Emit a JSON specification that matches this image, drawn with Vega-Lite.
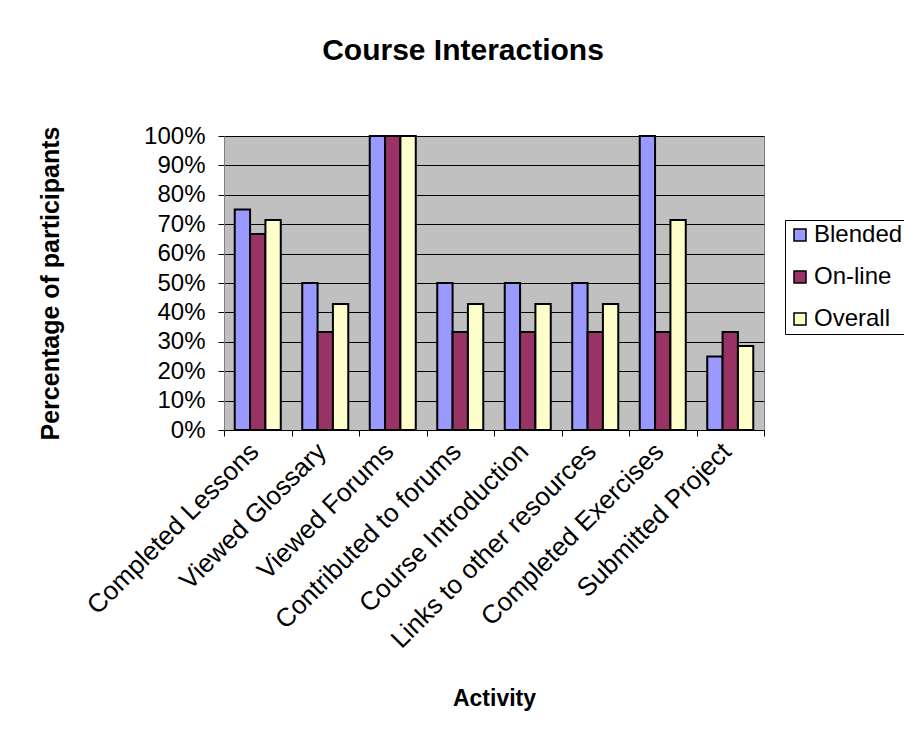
{
  "$schema": "https://vega.github.io/schema/vega-lite/v6.json",
  "autosize": "none",
  "width": 540,
  "height": 294,
  "padding": {"left": 224, "top": 136, "right": 140, "bottom": 312},
  "background": "white",
  "title": {
    "text": "Course Interactions",
    "font": "Liberation Sans",
    "fontSize": 30,
    "fontWeight": "bold",
    "color": "black",
    "anchor": "middle",
    "frame": "group",
    "dx": -31,
    "offset": 34,
    "baseline": "alphabetic"
  },
  "data": {
    "values": [
      {"activity": "Completed Lessons", "group": "Blended", "value": 0.75},
      {"activity": "Completed Lessons", "group": "On-line", "value": 0.6667},
      {"activity": "Completed Lessons", "group": "Overall", "value": 0.7143},
      {"activity": "Viewed Glossary", "group": "Blended", "value": 0.5},
      {"activity": "Viewed Glossary", "group": "On-line", "value": 0.3333},
      {"activity": "Viewed Glossary", "group": "Overall", "value": 0.4286},
      {"activity": "Viewed Forums", "group": "Blended", "value": 1.0},
      {"activity": "Viewed Forums", "group": "On-line", "value": 1.0},
      {"activity": "Viewed Forums", "group": "Overall", "value": 1.0},
      {"activity": "Contributed to forums", "group": "Blended", "value": 0.5},
      {"activity": "Contributed to forums", "group": "On-line", "value": 0.3333},
      {"activity": "Contributed to forums", "group": "Overall", "value": 0.4286},
      {"activity": "Course Introduction", "group": "Blended", "value": 0.5},
      {"activity": "Course Introduction", "group": "On-line", "value": 0.3333},
      {"activity": "Course Introduction", "group": "Overall", "value": 0.4286},
      {"activity": "Links to other resources", "group": "Blended", "value": 0.5},
      {"activity": "Links to other resources", "group": "On-line", "value": 0.3333},
      {"activity": "Links to other resources", "group": "Overall", "value": 0.4286},
      {"activity": "Completed Exercises", "group": "Blended", "value": 1.0},
      {"activity": "Completed Exercises", "group": "On-line", "value": 0.3333},
      {"activity": "Completed Exercises", "group": "Overall", "value": 0.7143},
      {"activity": "Submitted Project", "group": "Blended", "value": 0.25},
      {"activity": "Submitted Project", "group": "On-line", "value": 0.3333},
      {"activity": "Submitted Project", "group": "Overall", "value": 0.2857}
    ]
  },
  "mark": {"type": "bar", "stroke": "black", "strokeWidth": 2},
  "encoding": {
    "x": {
      "field": "activity",
      "type": "nominal",
      "sort": null,
      "scale": {"paddingInner": 0, "paddingOuter": 0},
      "axis": {
        "title": "Activity",
        "titleFont": "Liberation Sans",
        "titleFontSize": 23,
        "titleFontWeight": "bold",
        "titleColor": "black",
        "titleX": 270,
        "titleY": 268,
        "titleBaseline": "middle",
        "labelAngle": -45,
        "labelFont": "Liberation Sans",
        "labelFontSize": 26,
        "labelColor": "black",
        "labelPadding": 2,
        "labelOffset": -13,
        "labelLimit": 500,
        "tickBand": "extent",
        "tickExtra": true,
        "tickColor": "black",
        "tickSize": 6,
        "domain": false,
        "grid": false
      }
    },
    "xOffset": {
      "field": "group",
      "type": "nominal",
      "scale": {"paddingInner": 0, "paddingOuter": 0.7}
    },
    "y": {
      "field": "value",
      "type": "quantitative",
      "scale": {"domain": [0, 1], "nice": false},
      "axis": {
        "title": "Percentage of participants",
        "titleFont": "Liberation Sans",
        "titleFontSize": 25,
        "titleFontWeight": "bold",
        "titleColor": "black",
        "titleAngle": -90,
        "titleX": -174,
        "titleY": 147,
        "titleBaseline": "middle",
        "titleAlign": "center",
        "format": ".0%",
        "values": [0, 0.1, 0.2, 0.3, 0.4, 0.5, 0.6, 0.7, 0.8, 0.9, 1.0],
        "labelFont": "Liberation Sans",
        "labelFontSize": 24,
        "labelColor": "black",
        "labelPadding": 13,
        "tickColor": "black",
        "tickSize": 6,
        "domainColor": "#808080",
        "grid": true,
        "gridColor": "black",
        "gridWidth": 1,
        "gridOpacity": 1
      }
    },
    "color": {
      "field": "group",
      "type": "nominal",
      "scale": {"domain": ["Blended", "On-line", "Overall"], "range": ["#9999FF", "#993366", "#FFFFCC"]},
      "legend": {
        "title": null,
        "orient": "none",
        "legendX": 561,
        "legendY": 84,
        "symbolType": "square",
        "symbolSize": 144,
        "symbolStrokeColor": "black",
        "symbolStrokeWidth": 1.5,
        "labelFont": "Liberation Sans",
        "labelFontSize": 24,
        "labelColor": "black",
        "rowPadding": 18,
        "strokeColor": "black",
        "padding": 3,
        "labelOffset": 2
      }
    }
  },
  "config": {
    "view": {"fill": "#C0C0C0", "stroke": "#808080", "strokeWidth": 1}
  }
}
